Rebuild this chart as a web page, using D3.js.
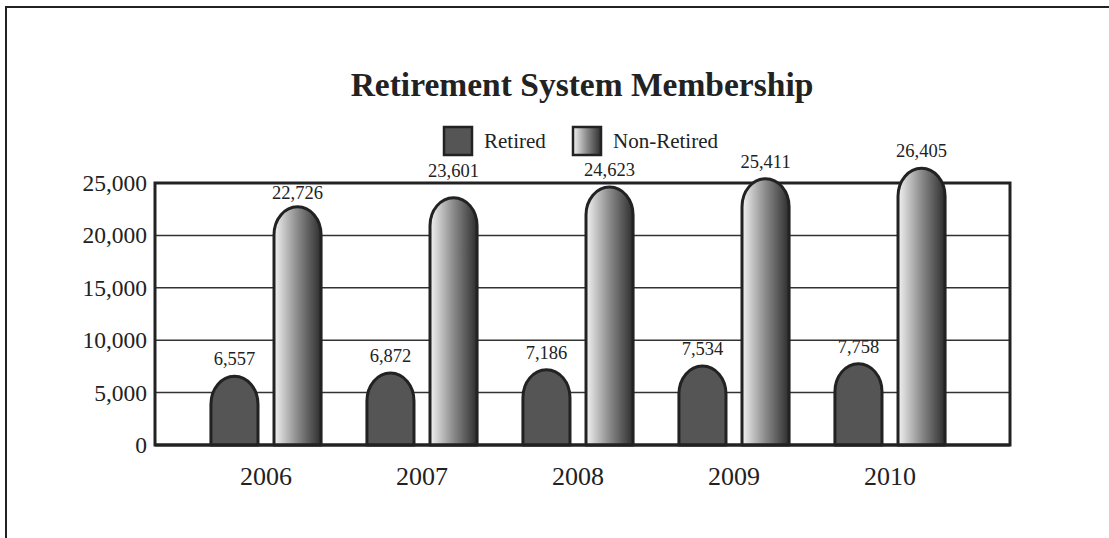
<!DOCTYPE html>
<html>
<head>
<meta charset="utf-8">
<script src="https://cdn.jsdelivr.net/npm/d3@7"></script>
<style>
  html, body { margin: 0; padding: 0; background: #fff; }
  svg { display: block; }
  text { font-family: "Liberation Serif", "Times New Roman", serif; fill: #222; }
</style>
</head>
<body>
<svg id="chart" width="1109" height="538"></svg>
<script>
const years = ["2006", "2007", "2008", "2009", "2010"];
const seriesNames = ["Retired", "Non-Retired"];
const retired = [6557, 6872, 7186, 7534, 7758];
const nonRetired = [22726, 23601, 24623, 25411, 26405];
const yTicks = [0, 5000, 10000, 15000, 20000, 25000];
const titleText = "Retirement System Membership";

const svg = d3.select("#chart");
const W = 1109, H = 538;
const plot = { left: 155, right: 1010, top: 183, bottom: 445 };

// gradient
const defs = svg.append("defs");
const grad = defs.append("linearGradient").attr("id", "nrGrad")
  .attr("x1", "0%").attr("x2", "100%").attr("y1", "0%").attr("y2", "0%");
grad.append("stop").attr("offset", "0%").attr("stop-color", "#f2f2f2");
grad.append("stop").attr("offset", "50%").attr("stop-color", "#8a8a8a");
grad.append("stop").attr("offset", "100%").attr("stop-color", "#2e2e2e");

// outer border
svg.append("rect").attr("x", 6).attr("y", 7).attr("width", W + 20).attr("height", H + 20)
  .attr("fill", "none").attr("stroke", "#222").attr("stroke-width", 2);

// title
svg.append("text").attr("x", 582).attr("y", 96).attr("text-anchor", "middle")
  .style("font-size", "33.5px").style("font-weight", "bold").text(titleText);

const y = d3.scaleLinear().domain([0, 25000]).range([plot.bottom, plot.top]);
const x0 = d3.scaleBand().domain(years).range([188, 968]).padding(0);
const x1 = d3.scaleBand().domain(seriesNames)
  .range([x0.bandwidth() * 0.147, x0.bandwidth() * 0.853]).paddingInner(0.254).paddingOuter(0);

// gridlines
svg.append("g").selectAll("line").data(yTicks.filter(d => d > 0 && d < 25000)).join("line")
  .attr("x1", plot.left).attr("x2", plot.right)
  .attr("y1", d => y(d)).attr("y2", d => y(d))
  .attr("stroke", "#333").attr("stroke-width", 1.5);

// frame
svg.append("rect").attr("x", plot.left).attr("y", plot.top)
  .attr("width", plot.right - plot.left).attr("height", plot.bottom - plot.top)
  .attr("fill", "none").attr("stroke", "#222").attr("stroke-width", 3);

// y axis labels
const yAxis = d3.axisLeft(y).tickValues(yTicks).tickSize(0).tickPadding(8)
  .tickFormat(d3.format(","));
const yg = svg.append("g").attr("transform", `translate(${plot.left},0)`).call(yAxis);
yg.select(".domain").remove();
yg.selectAll("text").style("font-size", "23.5px").style("font-family", "Liberation Serif, serif")
  .attr("fill", "#222").attr("dy", "0.32em");

// x axis labels
const xAxis = d3.axisBottom(x0).tickSize(0).tickPadding(22);
const xg = svg.append("g").attr("transform", `translate(0,${plot.bottom})`).call(xAxis);
xg.select(".domain").remove();
xg.selectAll("text").style("font-size", "26px").style("font-family", "Liberation Serif, serif")
  .attr("fill", "#222");

// bars
const rows = years.map((yr, i) => ({ year: yr, values: [
  { series: "Retired", value: retired[i] },
  { series: "Non-Retired", value: nonRetired[i] }
]}));

function domePath(x, w, top, bottom) {
  const ry = 28, rx = w / 2;
  const shoulder = Math.min(bottom, top + ry);
  return `M${x},${bottom} L${x},${shoulder} A${rx},${ry} 0 0 1 ${x + w},${shoulder} L${x + w},${bottom} Z`;
}

const groups = svg.append("g").selectAll("g").data(rows).join("g")
  .attr("transform", d => `translate(${x0(d.year)},0)`);

groups.selectAll("path").data(d => d.values).join("path")
  .attr("d", d => domePath(x1(d.series), x1.bandwidth(), y(d.value), plot.bottom))
  .attr("fill", d => d.series === "Retired" ? "#555555" : "url(#nrGrad)")
  .attr("stroke", "#222").attr("stroke-width", 3).attr("stroke-linejoin", "round");

// value labels, nudged off the frame's top line when they would collide
function labelY(v) {
  let b = y(v) - 11;
  if (b > plot.top - 4 && b - 13 < plot.top + 3) {
    b = (b - plot.top > 10) ? plot.top + 16 : plot.top - 6;
  }
  return b;
}
groups.selectAll("text.val").data(d => d.values).join("text").attr("class", "val")
  .attr("x", d => x1(d.series) + x1.bandwidth() / 2)
  .attr("y", d => labelY(d.value))
  .attr("text-anchor", "middle").style("font-size", "18.5px")
  .text(d => d3.format(",")(d.value));

// bottom axis line (thick)
svg.append("line").attr("x1", plot.left).attr("x2", plot.right)
  .attr("y1", plot.bottom).attr("y2", plot.bottom)
  .attr("stroke", "#222").attr("stroke-width", 3);

// legend
const legendItems = [
  { name: "Retired", fill: "#555555", x: 444 },
  { name: "Non-Retired", fill: "url(#nrGrad)", x: 573 }
];
const lg = svg.append("g").selectAll("g").data(legendItems).join("g")
  .attr("transform", d => `translate(${d.x},127)`);
lg.append("rect").attr("width", 28).attr("height", 28)
  .attr("fill", d => d.fill).attr("stroke", "#222").attr("stroke-width", 2.5);
lg.append("text").attr("x", 40).attr("y", 21).style("font-size", "21px").text(d => d.name);
</script>
</body>
</html>
